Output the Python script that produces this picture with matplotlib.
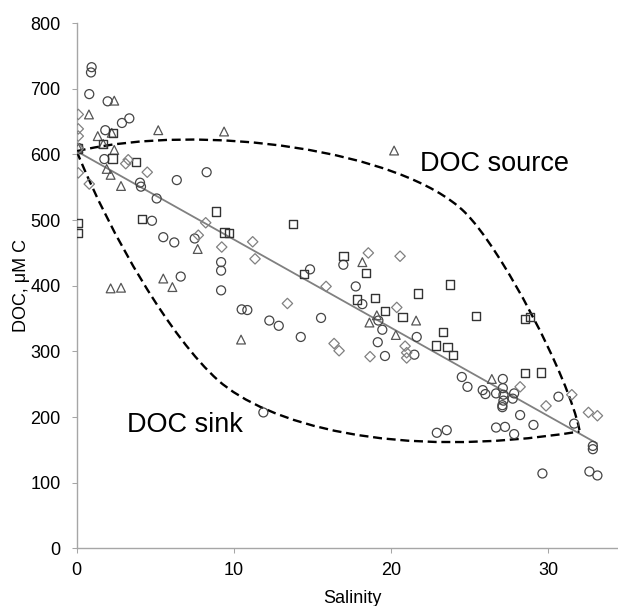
import matplotlib
matplotlib.use('Agg')
import matplotlib.pyplot as plt
from matplotlib.path import Path
from matplotlib.patches import PathPatch

plt.rcParams['font.family'] = ['Liberation Sans', 'DejaVu Sans']

# salinity / DOC readings, one list pair per station group
circle_x = [0.1, 0.95, 0.91, 0.80, 1.97, 2.88, 3.35, 1.82, 1.76, 4.03, 4.09, 6.37, 8.27, 5.09,
            4.79, 5.51, 6.21, 7.51, 9.19, 9.19, 9.19, 6.62, 10.5, 10.86, 11.88, 14.85, 16.97,
            17.76, 18.18, 19.2, 19.45, 19.16, 19.62, 21.64, 21.49, 15.55, 14.26, 12.26, 12.86,
            22.92, 23.55, 24.51, 24.87, 25.84, 26.01, 26.69, 27.12, 27.12, 27.16, 27.16, 27.09,
            27.09, 27.84, 27.75, 28.22, 29.07, 26.69, 27.26, 27.84, 30.66, 31.66, 32.85, 32.85,
            29.64, 32.63, 33.14]
circle_y = [610, 733, 725, 692, 681, 648, 655, 637, 593, 557, 551, 561, 573, 533,
            499, 474, 466, 472, 436, 423, 393, 414, 364, 363, 207, 425, 432,
            399, 372, 347, 333, 314, 293, 322, 295, 351, 322, 347, 339,
            176, 180, 261, 246, 241, 235, 236, 258, 244, 234, 225, 218,
            215, 236, 228, 203, 188, 184, 185, 174, 231, 190, 156, 151,
            114, 117, 111]

tri_x = [0.1, 2.39, 0.78, 5.19, 9.38, 1.34, 2.23, 1.69, 2.39, 1.91, 2.16, 2.82, 7.70, 5.51,
         6.09, 2.16, 2.82, 10.46, 20.2, 18.18, 18.63, 19.1, 20.31, 21.6, 26.42]
tri_y = [610, 682, 661, 637, 635, 628, 633, 616, 607, 578, 569, 552, 456, 411,
         398, 396, 397, 318, 606, 436, 344, 355, 325, 347, 258]

sq_x = [0.1, 2.33, 1.69, 2.27, 3.77, 4.14, 8.85, 9.40, 9.68, 0.1, 0.1, 13.75, 16.97, 18.4,
        14.47, 17.86, 18.99, 19.62, 20.73, 21.71, 23.76, 23.3, 22.85, 23.59, 25.42, 28.54,
        28.85, 23.93, 28.54, 29.54]
sq_y = [609, 633, 616, 594, 589, 502, 513, 481, 480, 496, 480, 494, 445, 419,
        418, 379, 381, 362, 352, 388, 402, 330, 309, 307, 354, 349,
        352, 295, 267, 268]

dia_x = [0.1, 0.1, 0.1, 0.1, 0.1, 0.8, 3.12, 3.28, 4.49, 8.21, 7.74, 9.23, 11.2, 11.35,
         18.56, 20.58, 15.87, 13.41, 20.37, 16.38, 16.7, 18.67, 20.9, 21.0, 21.0, 28.22,
         29.87, 31.51, 32.57, 33.14]
dia_y = [661, 639, 628, 609, 572, 555, 586, 592, 573, 496, 477, 459, 467, 441,
         450, 445, 399, 373, 367, 312, 301, 292, 308, 298, 290, 246,
         217, 234, 207, 202]

# conservative mixing line
mix_x = [0, 33.1]
mix_y = [605, 160]

# hand-drawn source / sink envelopes (bezier control points)
source_pts = [(0, 605), (8, 650), (20.7, 606), (24.7, 512),
              (27.0, 458), (31.3, 262), (32.0, 180)]
sink_pts = [(0, 605), (2.2, 475), (6, 320), (9, 256),
            (12, 192), (20, 132), (32.0, 178)]

fig = plt.figure(figsize=(6.18, 6.06), dpi=100)
ax = fig.add_axes([0.1241, 0.0952, 0.8759, 0.8665])

ax.plot(mix_x, mix_y, color='#808080', lw=1.3, zorder=2)

codes = [Path.MOVETO] + [Path.CURVE4] * 6
for pts in (source_pts, sink_pts):
    patch = PathPatch(Path(pts, codes), facecolor='none', edgecolor='black',
                      lw=1.7, linestyle=(0, (3.8, 2.0)), zorder=3)
    ax.add_patch(patch)

ax.scatter(circle_x, circle_y, s=42, marker='o', facecolors='none',
           edgecolors='#454545', linewidths=0.9, zorder=4)
ax.scatter(tri_x, tri_y, s=40, marker='^', facecolors='none',
           edgecolors='#555555', linewidths=0.9, zorder=4)
ax.scatter(sq_x, sq_y, s=36, marker='s', facecolors='none',
           edgecolors='#333333', linewidths=1.0, zorder=4)
ax.scatter(dia_x, dia_y, s=28, marker='D', facecolors='none',
           edgecolors='#808080', linewidths=0.9, zorder=4)

ax.text(21.85, 586, 'DOC source', fontsize=19.5, ha='left', va='center')
ax.text(3.18, 188, 'DOC sink', fontsize=19.5, ha='left', va='center')

ax.set_xlim(0, 34.45)
ax.set_ylim(0, 800)
ax.set_xticks([0, 10, 20, 30])
ax.set_yticks(range(0, 801, 100))

for side in ('top', 'right'):
    ax.spines[side].set_visible(False)
for side in ('left', 'bottom'):
    ax.spines[side].set_color('#a6a6a6')
    ax.spines[side].set_linewidth(1.0)

ax.tick_params(axis='both', colors='#a6a6a6', length=3.6, width=0.75,
               labelcolor='black', labelsize=13)
ax.tick_params(axis='x', pad=6.5)
ax.tick_params(axis='y', pad=8)

ax.set_xlabel('Salinity', fontsize=13)
ax.xaxis.set_label_coords(0.5086, -0.079)
ax.set_ylabel('DOC, \u03bcM C', fontsize=13)
ax.yaxis.set_label_coords(-0.086, 0.5)

fig.savefig('out.png', dpi=100)
